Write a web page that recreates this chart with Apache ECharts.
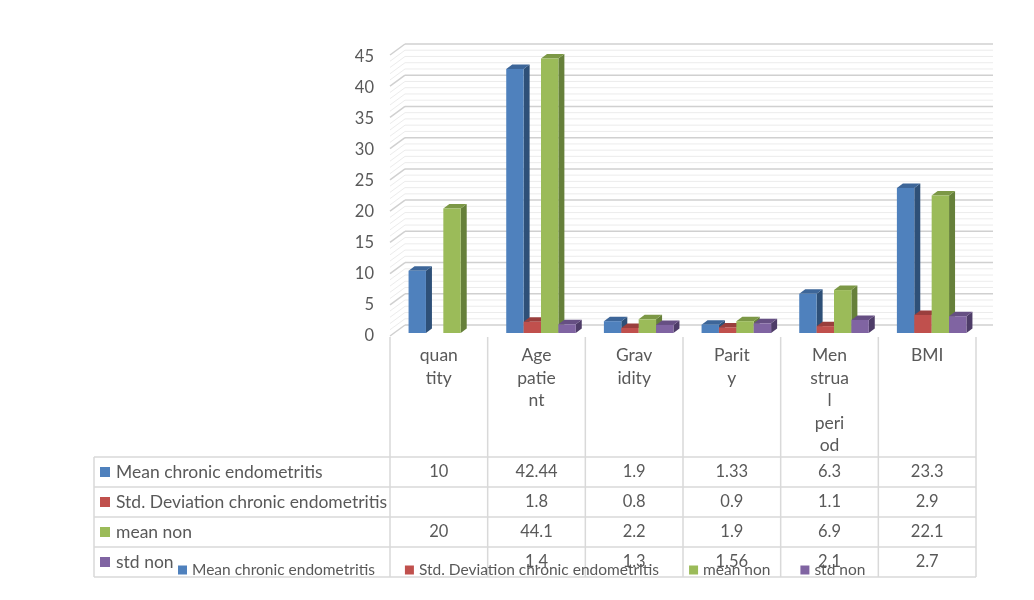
<!DOCTYPE html>
<html>
<head>
<meta charset="utf-8">
<script src="https://cdn.jsdelivr.net/npm/echarts@6/dist/echarts.min.js"></script>
<style>html,body{margin:0;padding:0;background:#fff;}#c{width:1034px;height:600px;}</style>
</head>
<body>
<div id="c"></div>
<script>
// ---- data ----
var categories = ["quantity", "Age patient", "Gravidity", "Parity", "Menstrual period", "BMI"];
var tickLabels = ["quan\ntity", "Age\npatie\nnt", "Grav\nidity", "Parit\ny", "Men\nstrua\nl\nperi\nod", "BMI"];
var seriesNames = ["Mean chronic endometritis", "Std. Deviation chronic endometritis", "mean non", "std non"];
var meanCE = [10, 42.44, 1.9, 1.33, 6.3, 23.3];
var stdCE = [null, 1.8, 0.8, 0.9, 1.1, 2.9];
var meanNon = [20, 44.1, 2.2, 1.9, 6.9, 22.1];
var stdNon = [null, 1.4, 1.3, 1.56, 2.1, 2.7];
var yMin = 0, yMax = 45, yStep = 5, yMinorStep = 1;

var seriesValues = [meanCE, stdCE, meanNon, stdNon];
var frontColors = ["#4F81BD", "#C0504D", "#9BBB59", "#8064A2"];
var topColors = ["#3D6699", "#9A3F3D", "#7C9846", "#664F83"];
var sideColors = ["#2E5078", "#8A3634", "#66803A", "#4E3C68"];

// ---- layout ----
var FONT = "Lato, 'Liberation Sans', sans-serif";
var TXT = "#595959";
var LINE = "#D9D9D9";
var colLeft = 390, colRight = 976;
var tableLeft = 94;
var rowYs = [457, 487, 517, 547, 577];
var depthX = 6, depthY = -4.5;
var wallDX = 15, wallDY = -11;

var chart = echarts.init(document.getElementById('c'), null, {renderer: 'canvas'});

var gridValues = [];
for (var v = yMin; v <= yMax + 1e-9; v += yMinorStep) gridValues.push(v);

function barRender(s) {
  return function (params, api) {
    var cat = api.value(0), val = api.value(1);
    if (val === null || val === undefined || isNaN(val)) return null;
    var base = api.coord([cat, 0]);
    var top = api.coord([cat, val]);
    var bandW = api.size([1, 0])[0];
    var w = bandW * 0.178;
    var x = base[0] - 2 * w + s * w;
    var yb = base[1], yt = top[1];
    return {
      type: 'group',
      children: [
        {type: 'polygon', shape: {points: [[x + w, yb], [x + w + depthX, yb + depthY], [x + w + depthX, yt + depthY], [x + w, yt]]}, style: {fill: sideColors[s]}},
        {type: 'polygon', shape: {points: [[x, yt], [x + depthX, yt + depthY], [x + w + depthX, yt + depthY], [x + w, yt]]}, style: {fill: topColors[s]}},
        {type: 'rect', shape: {x: x, y: yt, width: w, height: yb - yt}, style: {fill: frontColors[s]}}
      ]
    };
  };
}

var series = [];
series.push({
  type: 'custom', name: '_grid', xAxisIndex: 2, yAxisIndex: 2, z: 1, silent: true,
  data: gridValues.map(function (g) { return [0, g]; }),
  encode: {x: 0, y: 1},
  renderItem: function (params, api) {
    var g = api.value(1);
    var p1 = api.coord([0, g]);
    var p2 = api.coord([1, g]);
    var major = Math.abs(g / yStep - Math.round(g / yStep)) < 1e-9;
    var st = {stroke: major ? '#D0D0D0' : '#ECECEC', lineWidth: major ? 1.5 : 1};
    return {
      type: 'group',
      children: [
        {type: 'line', shape: {x1: p1[0], y1: p1[1], x2: p2[0], y2: p2[1]}, style: st},
        {type: 'line', shape: {x1: p1[0] - wallDX, y1: p1[1] - wallDY, x2: p1[0], y2: p1[1]}, style: st}
      ]
    };
  }
});
seriesValues.forEach(function (arr, s) {
  series.push({
    type: 'custom', name: seriesNames[s], xAxisIndex: 0, yAxisIndex: 0, z: 2 + s,
    itemStyle: {color: frontColors[s]},
    data: arr.map(function (val, i) { return [i, val]; }),
    encode: {x: 0, y: 1},
    renderItem: barRender(s)
  });
});

var graphics = [];
var nCat = categories.length;
var colW = (colRight - colLeft) / nCat;
rowYs.forEach(function (y) {
  graphics.push({type: 'line', shape: {x1: tableLeft, y1: y, x2: colRight, y2: y}, style: {stroke: LINE, lineWidth: 1.5}, z: 10});
});
graphics.push({type: 'line', shape: {x1: tableLeft, y1: rowYs[0], x2: tableLeft, y2: rowYs[rowYs.length - 1]}, style: {stroke: LINE, lineWidth: 1.5}, z: 10});
for (var k = 0; k <= nCat; k++) {
  var xx = colLeft + k * colW;
  graphics.push({type: 'line', shape: {x1: xx, y1: 337, x2: xx, y2: rowYs[rowYs.length - 1]}, style: {stroke: LINE, lineWidth: 1.5}, z: 10});
}
seriesNames.forEach(function (name, r) {
  var cy = (rowYs[r] + rowYs[r + 1]) / 2;
  graphics.push({type: 'rect', shape: {x: 100, y: cy - 5, width: 10, height: 10}, style: {fill: frontColors[r]}, z: 11});
  graphics.push({type: 'text', x: 116, y: cy, style: {text: name, fill: TXT, font: '17.5px ' + FONT, textAlign: 'left', textVerticalAlign: 'middle'}, z: 11});
  seriesValues[r].forEach(function (val, i) {
    if (val === null) return;
    graphics.push({type: 'text', x: colLeft + (i + 0.5) * colW, y: cy, style: {text: String(val), fill: TXT, font: '16.5px ' + FONT, textAlign: 'center', textVerticalAlign: 'middle'}, z: 11});
  });
});

var option = {
  backgroundColor: '#ffffff',
  animation: false,
  color: frontColors,
  textStyle: {fontFamily: FONT},
  legend: {
    data: seriesNames,
    left: 178, top: 562, padding: 0,
    itemWidth: 9, itemHeight: 9, itemGap: 30,
    icon: 'rect',
    textStyle: {color: TXT, fontSize: 15.5, fontFamily: FONT},
    selectedMode: false,
    z: 20
  },
  grid: [
    {left: 394.5, width: colRight - colLeft, top: 53, height: 280, containLabel: false},
    {left: colLeft, width: colRight - colLeft, top: 57, height: 279, containLabel: false},
    {left: 405, width: 588, top: 44, height: 281, containLabel: false}
  ],
  xAxis: [
    {gridIndex: 0, type: 'category', data: categories, show: false},
    {gridIndex: 1, type: 'category', data: categories,
      axisLine: {show: false}, axisTick: {show: false}, splitLine: {show: false},
      axisLabel: {interval: 0, margin: 8.5, color: TXT, fontSize: 17.5, fontFamily: FONT, lineHeight: 22.5,
        formatter: function (val, idx) { return tickLabels[idx]; }}},
    {gridIndex: 2, type: 'value', min: 0, max: 1, show: false}
  ],
  yAxis: [
    {gridIndex: 0, type: 'value', min: yMin, max: yMax, interval: yStep, show: false},
    {gridIndex: 1, type: 'value', min: yMin, max: yMax, interval: yStep,
      axisLine: {show: false}, axisTick: {show: false}, splitLine: {show: false},
      axisLabel: {margin: 16, color: TXT, fontSize: 16.5, fontFamily: FONT}},
    {gridIndex: 2, type: 'value', min: yMin, max: yMax, interval: yStep, show: false}
  ],
  series: series,
  graphic: graphics
};
chart.setOption(option);
</script>
</body>
</html>
